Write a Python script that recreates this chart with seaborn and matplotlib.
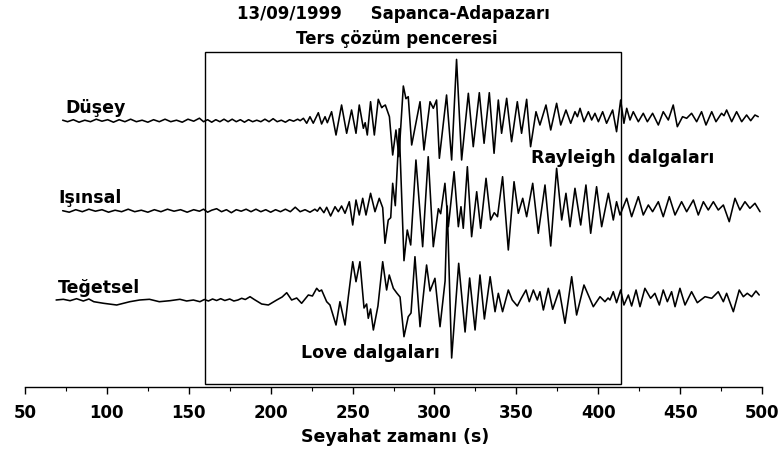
import matplotlib
matplotlib.use("Agg")
import matplotlib.pyplot as plt
import seaborn as sns
import pandas as pd
from matplotlib.patches import Rectangle
from matplotlib.ticker import MultipleLocator

# ---------------- text ----------------
title = "13/09/1999     Sapanca-Adapazarı"
window_label = "Ters çözüm penceresi"
x_label = "Seyahat zamanı (s)"
trace_names = ["Düşey", "Işınsal", "Teğetsel"]
rayleigh_label = "Rayleigh  dalgaları"
love_label = "Love dalgaları"
x_ticks = [50, 100, 150, 200, 250, 300, 350, 400, 450, 500]

# inversion window (s)
window_start = 160
window_end = 414

# ---------------- data (time s, amplitude) ----------------
dusey_t = [73, 76, 79.5, 83, 86.5, 90, 93.5, 97, 100.5, 104, 107.5, 111, 114.5, 118, 121.5, 125, 128.5, 132,
           135.5, 139, 142.5, 146, 149.5, 153, 156.5, 159, 161.5, 164, 166.5, 169, 171.5, 174, 176.5, 179,
           181.5, 184, 186.5, 189, 191.5, 194, 196.5, 199, 201.5, 204, 206.5, 209, 211.5, 214, 216.5, 218,
           220, 222, 224, 226, 229.1, 231.1, 233.2, 234.6, 237.2, 239.9, 243.3, 246.4, 249.4, 252.1, 254.1,
           256.6, 257.7, 259, 261, 263.3, 265.7, 267.8, 268.4, 270, 272.5, 274.5, 276.5, 278.3, 281, 282.6,
           284, 286.1, 291.2, 293.6, 297.3, 299.3, 301.3, 303, 307.4, 310.5, 313.5, 316.6, 320.7, 323.7,
           327.4, 330.3, 333.5, 336.4, 339, 341, 344.1, 347.1, 350.6, 353.2, 356.3, 358.7, 362, 364.4, 368.1,
           371, 374.6, 377.1, 380.3, 383.2, 385.8, 387.3, 388.9, 391.3, 394, 396, 398, 400.1, 402.7, 405.1,
           408.8, 411.2, 413.7, 415.7, 417.4, 419.4, 421.4, 424.5, 427.5, 430, 433.2, 436.7, 439.7, 442.8,
           445.8, 448.3, 451.5, 454, 457, 460.1, 463.1, 465.8, 469.3, 471.9, 475.3, 476.8, 478.4, 481.5,
           484.5, 487.6, 490.6, 493.1, 495.7, 497.7]
dusey_a = [0.5, -1.0, 1.0, -1.5, 0.5, -1.0, 1.5, -0.5, 1.0, -1.5, 1.0, -1.0, 1.5, -1.0, 0.5, -1.5, 1.0, -1.0,
           1.5, -1.0, 0.5, -1.5, 1.5, -0.5, 2.5, -1.0, 1.0, -1.5, 1.0, -1.0, 1.5, -1.0, 1.5, -1.0,
           1.0, -1.5, 1.0, -1.0, 0.5, -1.0, 1.5, -1.0, 2.0, -1.0, 0.5, -1.5, 1.0, -0.5, 1.5, 0.0,
           2.4, -2.6, 4, -2.5, 8, -3.3, 4, -2, 9, -14.3, 15.7, -12.6, 10.7, -12.6, 15.7,
           -7.6, -2, -14.3, 19, -14.3, 21.4, 13, 14, 15.7, 4, -34.3, -9.3, -36, 34.7, 22,
           24, -24.3, 19, -29.3, 19, 12.4, 20.7, -37.6, 25.7, -39.3, 61.3, -39.3, 27.4, -26,
           28, -22.6, 28, -32.6, 20.7, -12.6, 22.4, -21, 19, -12.6, 21.4, -26, 9, -4.3, 15.7,
           -9.3, 17.4, -4.3, 10.7, -2.6, 9, 4, 12.4, -1, 9, 0.7, 7.4, -1, 9, -2.6,
           10.7, -11, 20.7, -2.6, 12.4, 0.7, 9, -1, 7.4, -1, 7.4, -4.3, 9, 0.7,
           15.7, -6, 4, 2.4, 7.4, -1, 9, -4.3, 9, -1, 7.4, 5, 10.7, -1,
           9, -1, 5.7, 0, 5.7, 4]

isinsal_t = [73, 77, 81, 85, 89, 93, 97, 101, 105, 109, 113, 117, 121, 125, 129, 133, 137, 141, 145, 149,
             153, 156.5, 159, 161.5, 164, 167, 170, 173, 176, 179, 182, 185, 188, 191, 194, 197, 200, 203,
             206, 209, 212, 215, 218, 221, 224, 227, 228.5,
             230.1, 232.5, 234.2, 236.6, 239.3, 241.3, 243.3, 245.4, 248, 250.1, 252.1, 254.1, 256.2, 258.2,
             261, 263.7, 266.3, 268.4, 269.8, 271.8, 273.3, 274.5, 276.1, 278.5, 281.4, 283.4, 285.5, 288.7,
             292.8, 296.2, 299.3, 302.4, 303.8, 306.4, 308.5, 312, 314.6, 316.2, 317.6, 320.1, 322.7, 325.8,
             328.2, 331.5, 334.3, 336.5, 338.5, 341.6, 345.1, 348.6, 351.2, 353.9, 356.3, 360, 363.4, 367.5,
             371, 374.6, 377.7, 380.3, 382.8, 385.8, 389.3, 392.5, 395.4, 399, 402.1, 406.2, 409.2, 411.2,
             413.3, 417.4, 420.4, 424.5, 427.5, 430.6, 433.2, 436.7, 439.7, 443.4, 446.9, 450.9, 454, 458.1,
             461.1, 464.2, 467.2, 470.3, 473.3, 476.4, 480, 483.5, 486.5, 489.6, 492.6, 495.7, 498.8]
isinsal_a = [0, -1.5, 1, -1, 1.5, -0.5, 1, -1.5, 0.5, -1, 1.5, -1, 0.5, -1.5, 1, -1, 1.5, -0.5, 1, -1.5,
             1, -0.5, 1.5, -1.5, 0.5, 2, -1, 1, -2, 1, -0.5, 1.5, -1, 1.5, -1, 1, -1.5, 1,
             -1, 1.5, -1, 3.5, -1, 1, -1.5, 1.5, -0.5,
             3.4, -2, 3.4, -5.3, 4, -1, 4.7, -2.6, 9, -14.3, 10.7, -4.3, 12.4, -4.3,
             17.4, -1, 12.4, 3, -32.6, -9.3, -7, 27.4, 5, 82, -50, -19.3, -34.3, 50.7,
             -36, 54, -36, 2, -3, 27.4, -16, 39, -16, 4, -17.6, 44, -26, 19,
             -17.6, 32.4, -9.3, -2, -6, 34, -39.3, 29, -2.6, 12.4, -6, 27.4, -22.6, 25.7,
             -35.3, 42.4, -9.3, 17.4, -16, 22.4, -14.3, 25.7, -22.6, 24, -16, 17.4, -9.3, 9,
             -4.3, 12.4, -6, 14, -4.3, 5.7, -1, 9, -6, 14, -4.3, 9, -1, 10.7,
             -4.3, 9, 0.7, 9, 0.7, 5.7, -11, 12.4, 0.7, 9, 2.4, 7.4, -1]

tegetsel_t = [69, 73.4, 77.5, 81.5, 85.6, 89, 92, 98, 106, 114, 120, 126, 132, 138.5, 144.6, 148.7, 152.8,
              156.8, 159.5, 162, 164.5, 167, 169.5, 172, 175, 177.5, 180, 182.3, 184.5, 187.4, 190, 194.5,
              198.6, 203.7, 207, 209.8, 212.8, 215.9, 218.9, 223, 225.5, 228.1, 229.7, 231.1, 234.2, 236.2,
              239.9, 242.3, 245.4, 247.4, 250.1, 252.1, 254.5, 257, 258.6, 259.6, 261, 262.7, 265.5, 268.4,
              270.8, 272.4, 274.9, 277, 279, 281.4, 284, 285.7, 288.1, 291.2, 295.2, 297.3, 300.3, 303.4,
              306.5, 307.8, 310.5, 314.8, 318.7, 321.5, 324.8, 327.8, 330.5, 334, 337, 339, 341.6, 345.1,
              347.5, 350.6, 352.8, 355.9, 357.9, 360.4, 362.8, 364.4, 366.5, 369.5, 372.2, 376.2, 379.7,
              383.8, 386.8, 391.3, 397, 401.1, 404.1, 406, 407.2, 409.2, 411.2, 413.7, 415.7, 418.4, 420.4,
              423.1, 425.5, 428.5, 432, 434.6, 437.3, 439.7, 442.2, 444.8, 446.9, 449.9, 453, 457, 460.5,
              465.2, 469.3, 473.3, 476.4, 478.4, 482.5, 486.1, 488.6, 491, 493.7, 496.3, 498.3]
tegetsel_a = [1, 1.7, 0.3, 2.3, 0, 2, -0.7, -2.3, -4, -0.7, 1, 1.7, -0.7, 0.3, 1.7, 0, 1,
              -0.7, 1.5, 0, 2, 0.5, 2.3, 0.5, 2, 0, 1, 2.7, 1.5, 4.3, 1.5, -3,
              -4, 1, 4, 8.3, 1, 3, -2.3, 6, 5, 12.7, 9.7, 11, -0.7, -4,
              -24, -0.7, -24, 4, 39.3, 19.3, 39.3, -7, -3, -17.3, -8, -29, -5, 39.3,
              11, 26, 12.7, 8, 4, -35.7, -15.7, -12, 44.3, -25.7, 36, 10, 22.7, -25.7,
              20, 95, -57, 37.7, -31, 23, -29, 26, -18, 24.3, -10.7, 7.7, -10.7, 11,
              1, -5, 2, 11, -0.7, 11, 1, 9.3, -9, 12.7, -8.3, 11, -22.3,
              24.3, -14, 16, -5.7, 4.3, -0.7, 3, 1, 9.3, -1.7, 11, -4, 6, -5,
              11, -5.7, 12.7, 2.7, 7.7, -4, 11, -0.7, 9.3, -5.7, 12.7, -4, 9.3, -1.7,
              4.3, 2.7, 9.3, -0.7, 7.7, -10.7, 11, 4.3, 7.7, 4.3, 10, 6]

# ---------------- figure ----------------
sns.set_theme(style="white")
plt.rcParams["font.family"] = ["DejaVu Sans"]
plt.rcParams["font.weight"] = "bold"
plt.rcParams["text.color"] = "black"
plt.rcParams["xtick.color"] = "black"
plt.rcParams["xtick.labelcolor"] = "black"

W, H = 779, 453
fig = plt.figure(figsize=(W / 100, H / 100), dpi=100)
ax = fig.add_axes([25 / W, (H - 387) / H, 737 / W, 387 / H])
ax.set_xlim(50, 500)
ax.set_ylim(0, 387)

baselines = {"Düşey": 266.3, "Işınsal": 176.3, "Teğetsel": 86.0}
series = {"Düşey": (dusey_t, dusey_a), "Işınsal": (isinsal_t, isinsal_a), "Teğetsel": (tegetsel_t, tegetsel_a)}

for name in trace_names:
    t, a = series[name]
    df = pd.DataFrame({"time": t, "amp": a})
    df["y"] = df["amp"] + baselines[name]
    sns.lineplot(data=df, x="time", y="y", ax=ax, color="black", linewidth=1.15,
                 sort=False, estimator=None)

# inversion window box
ax.add_patch(Rectangle((window_start, 3), window_end - window_start, 332,
                       fill=False, edgecolor="black", linewidth=1.0))

# axes styling
for s in ["left", "right", "top"]:
    ax.spines[s].set_visible(False)
ax.spines["bottom"].set_linewidth(1.0)
ax.spines["bottom"].set_color("black")
ax.set_xticks(x_ticks)
ax.set_xticklabels([str(v) for v in x_ticks], fontsize=12, fontweight="bold", color="black")
ax.xaxis.set_minor_locator(MultipleLocator(25))
ax.tick_params(axis="x", which="major", direction="out", length=5, width=1, pad=7,
               bottom=True, colors="black")
ax.tick_params(axis="x", which="minor", direction="out", length=3, width=0.8, bottom=True,
               colors="black")
ax.set_yticks([])
ax.set_xlabel("")
ax.set_ylabel("")

# texts
fig.text(393 / W, 1 - 14 / H, title, ha="center", va="center", fontsize=12, fontweight="bold",
         color="black")
fig.text(397 / W, 1 - 39 / H, window_label, ha="center", va="center", fontsize=12, fontweight="bold",
         color="black")
fig.text(395 / W, 1 - 437 / H, x_label, ha="center", va="center", fontsize=12.5, fontweight="bold",
         color="black")

label_pos = {"Düşey": (74.4, 279), "Işınsal": (70.1, 189), "Teğetsel": (70.1, 99)}
for name in trace_names:
    x, y = label_pos[name]
    ax.text(x, y, name, ha="left", va="center", fontsize=12.5, fontweight="bold", color="black")

ax.text(359, 229, rayleigh_label, ha="left", va="center", fontsize=12.5, fontweight="bold", color="black")
ax.text(218.5, 34, love_label, ha="left", va="center", fontsize=12.5, fontweight="bold", color="black")

fig.savefig("out.png", dpi=100)
